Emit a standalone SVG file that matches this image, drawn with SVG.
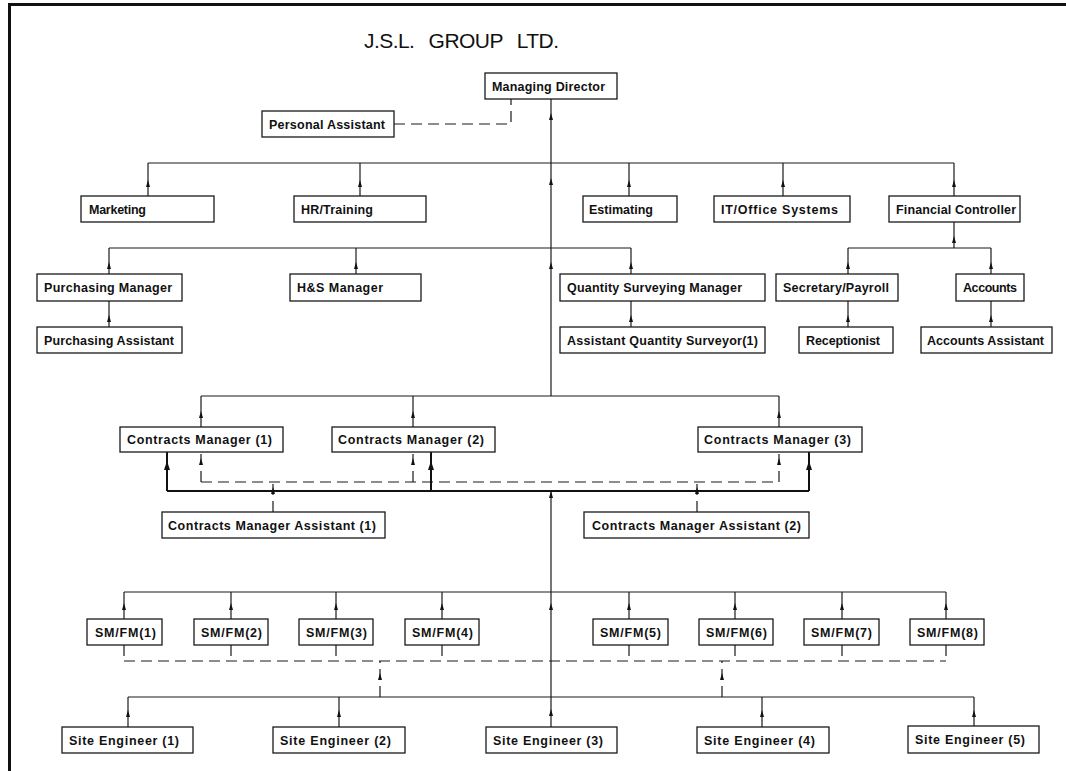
<svg xmlns="http://www.w3.org/2000/svg" xmlns:xlink="http://www.w3.org/1999/xlink" width="1066" height="771" viewBox="0 0 1066 771">
<style>
  .box { fill: #fff; stroke: #1a1a1a; stroke-width: 1.3; }
  .lbl { font-family: "Liberation Sans", Arial, sans-serif; font-size: 12.5px; font-weight: bold; fill: #111; }
  .title { font-family: "Liberation Sans", Arial, sans-serif; font-size: 21px; fill: #111; word-spacing: 9px; }
  .ln { fill: none; stroke: #1a1a1a; stroke-width: 1.2; }
  .thick { fill: none; stroke: #111; stroke-width: 2; }
  .dash { fill: none; stroke: #1a1a1a; stroke-width: 1.2; stroke-dasharray: 11 6; }
  .up { marker-mid: url(#ah); }
  .upend { marker-end: url(#ah); }
  .upbig { marker-mid: url(#ahb); }
  .frame { fill: none; stroke: #111; stroke-width: 3; }
</style>
<defs>
  <marker id="ah" markerUnits="userSpaceOnUse" markerWidth="8" markerHeight="6" viewBox="0 -3 8 6" refX="7" refY="0" orient="auto">
    <path d="M0,-2 L7,0 L0,2 z" fill="#111"/>
  </marker>
  <marker id="ahb" markerUnits="userSpaceOnUse" markerWidth="10" markerHeight="8" viewBox="0 -4 10 8" refX="9" refY="0" orient="auto">
    <path d="M0,-3 L9,0 L0,3 z" fill="#111"/>
  </marker>
</defs>
<rect x="0" y="0" width="1066" height="771" fill="#fff"/>
<path class="frame" d="M9.5,771 V4.5 H1066"/>
<text class="title" x="364" y="48" textLength="195" lengthAdjust="spacing">J.S.L. GROUP LTD.</text>

<g id="connectors">
  <!-- MD / PA -->
  <path class="dash" d="M394,124 H511 V99"/>
  <path class="ln up" d="M551,396 V262 V178 V113 V99"/>
  <!-- level 2 -->
  <path class="ln" d="M148,163 H954"/>
  <path class="ln up" d="M148,196 V180 V163"/>
  <path class="ln up" d="M360,196 V180 V163"/>
  <path class="ln up" d="M629,196 V180 V163"/>
  <path class="ln up" d="M783,196 V180 V163"/>
  <path class="ln up" d="M954,196 V180 V163"/>
  <!-- level 3 -->
  <path class="ln" d="M109,248 H631"/>
  <path class="ln up" d="M109,274 V262 V248"/>
  <path class="ln up" d="M356,274 V262 V248"/>
  <path class="ln up" d="M631,274 V262 V248"/>
  <path class="ln up" d="M954,248 V236 V222"/>
  <path class="ln" d="M848,248 H991"/>
  <path class="ln up" d="M848,274 V262 V248"/>
  <path class="ln up" d="M991,274 V262 V248"/>
  <!-- level 4 -->
  <path class="ln up" d="M109,327 V315 V301"/>
  <path class="ln up" d="M631,327 V315 V301"/>
  <path class="ln up" d="M848,327 V315 V301"/>
  <path class="ln up" d="M991,327 V315 V301"/>
  <!-- contracts managers -->
  <path class="ln" d="M201,396 H779"/>
  <path class="ln up" d="M201,427 V411 V396"/>
  <path class="ln up" d="M413,427 V411 V396"/>
  <path class="ln up" d="M779,427 V411 V396"/>
  <path class="dash" d="M201,482 H779"/>
  <path class="dash up" d="M201,482 V458 V452"/>
  <path class="dash up" d="M413,482 V458 V452"/>
  <path class="dash up" d="M779,482 V458 V452"/>
  <path class="thick" d="M167,491 H809"/>
  <path class="thick upbig" d="M167,491 V461 V452"/>
  <path class="thick upbig" d="M431,491 V461 V452"/>
  <path class="thick upbig" d="M809,491 V461 V452"/>
  <path class="dash up" d="M273,512 V487 V482"/>
  <path class="dash up" d="M697,512 V487 V482"/>
  <!-- lower trunk -->
  <path class="ln up upend" d="M551,727 V709 V603 V491"/>
  <!-- SM/FM -->
  <path class="ln" d="M124,592 H946"/>
  <path class="ln up" d="M124,619 V603 V592"/>
  <path class="ln up" d="M231,619 V603 V592"/>
  <path class="ln up" d="M336,619 V603 V592"/>
  <path class="ln up" d="M442,619 V603 V592"/>
  <path class="ln up" d="M629,619 V603 V592"/>
  <path class="ln up" d="M735,619 V603 V592"/>
  <path class="ln up" d="M842,619 V603 V592"/>
  <path class="ln up" d="M946,619 V603 V592"/>
  <path class="dash" d="M124,661 H946"/>
  <path class="dash" d="M124,645 V661 M231,645 V661 M336,645 V661 M442,645 V661 M629,645 V661 M735,645 V661 M842,645 V661 M946,645 V661"/>
  <path class="dash up" d="M380,697 V673 V661"/>
  <path class="dash up" d="M722,697 V673 V661"/>
  <!-- site engineers -->
  <path class="ln" d="M128,697 H974"/>
  <path class="ln up" d="M128,727 V710 V697"/>
  <path class="ln up" d="M339,727 V710 V697"/>
  <path class="ln up" d="M762,727 V710 V697"/>
  <path class="ln up" d="M974,727 V710 V697"/>
</g>

<g id="managing-director"><rect class="box" x="485" y="73" width="132" height="26"/><text class="lbl" x="492" y="91" textLength="113">Managing Director</text></g>
<g id="personal-assistant"><rect class="box" x="262" y="111" width="132" height="26"/><text class="lbl" x="269" y="129" textLength="116">Personal Assistant</text></g>

<g id="marketing"><rect class="box" x="81" y="196" width="133" height="26"/><text class="lbl" x="89" y="214" textLength="57">Marketing</text></g>
<g id="hr-training"><rect class="box" x="294" y="196" width="132" height="26"/><text class="lbl" x="301" y="214" textLength="72">HR/Training</text></g>
<g id="estimating"><rect class="box" x="583" y="196" width="94" height="26"/><text class="lbl" x="589" y="214" textLength="64">Estimating</text></g>
<g id="it-office-systems"><rect class="box" x="714" y="196" width="136" height="26"/><text class="lbl" x="721" y="214" textLength="117">IT/Office Systems</text></g>
<g id="financial-controller"><rect class="box" x="889" y="196" width="131" height="26"/><text class="lbl" x="896" y="214" textLength="120">Financial Controller</text></g>

<g id="purchasing-manager"><rect class="box" x="37" y="274" width="145" height="27"/><text class="lbl" x="44" y="292" textLength="128">Purchasing Manager</text></g>
<g id="hs-manager"><rect class="box" x="290" y="274" width="131" height="27"/><text class="lbl" x="297" y="292" textLength="86">H&amp;S Manager</text></g>
<g id="qs-manager"><rect class="box" x="560" y="274" width="205" height="27"/><text class="lbl" x="567" y="292" textLength="175">Quantity Surveying Manager</text></g>
<g id="secretary-payroll"><rect class="box" x="776" y="274" width="122" height="27"/><text class="lbl" x="783" y="292" textLength="106">Secretary/Payroll</text></g>
<g id="accounts"><rect class="box" x="956" y="274" width="68" height="27"/><text class="lbl" x="963" y="292" textLength="54">Accounts</text></g>

<g id="purchasing-assistant"><rect class="box" x="37" y="327" width="145" height="26"/><text class="lbl" x="44" y="345" textLength="130">Purchasing Assistant</text></g>
<g id="assistant-qs"><rect class="box" x="560" y="327" width="205" height="26"/><text class="lbl" x="567" y="345" textLength="191">Assistant Quantity Surveyor(1)</text></g>
<g id="receptionist"><rect class="box" x="799" y="327" width="94" height="26"/><text class="lbl" x="806" y="345" textLength="74">Receptionist</text></g>
<g id="accounts-assistant"><rect class="box" x="921" y="327" width="131" height="26"/><text class="lbl" x="927" y="345" textLength="117">Accounts Assistant</text></g>

<g id="contracts-manager-1"><rect class="box" x="120" y="427" width="163" height="25"/><text class="lbl" x="127" y="444" textLength="145">Contracts Manager (1)</text></g>
<g id="contracts-manager-2"><rect class="box" x="332" y="427" width="163" height="25"/><text class="lbl" x="338" y="444" textLength="146">Contracts Manager (2)</text></g>
<g id="contracts-manager-3"><rect class="box" x="698" y="427" width="164" height="25"/><text class="lbl" x="704" y="444" textLength="147">Contracts Manager (3)</text></g>
<g id="cm-assistant-1"><rect class="box" x="162" y="512" width="223" height="26"/><text class="lbl" x="168" y="530" textLength="208">Contracts Manager Assistant (1)</text></g>
<g id="cm-assistant-2"><rect class="box" x="584" y="512" width="225" height="26"/><text class="lbl" x="592" y="530" textLength="209">Contracts Manager Assistant (2)</text></g>

<g id="smfm-1"><rect class="box" x="87" y="619" width="75" height="26"/><text class="lbl" x="95" y="637" textLength="61">SM/FM(1)</text></g>
<g id="smfm-2"><rect class="box" x="194" y="619" width="74" height="26"/><text class="lbl" x="201" y="637" textLength="61">SM/FM(2)</text></g>
<g id="smfm-3"><rect class="box" x="299" y="619" width="74" height="26"/><text class="lbl" x="306" y="637" textLength="61">SM/FM(3)</text></g>
<g id="smfm-4"><rect class="box" x="405" y="619" width="74" height="26"/><text class="lbl" x="412" y="637" textLength="61">SM/FM(4)</text></g>
<g id="smfm-5"><rect class="box" x="593" y="619" width="75" height="26"/><text class="lbl" x="600" y="637" textLength="61">SM/FM(5)</text></g>
<g id="smfm-6"><rect class="box" x="699" y="619" width="74" height="26"/><text class="lbl" x="706" y="637" textLength="61">SM/FM(6)</text></g>
<g id="smfm-7"><rect class="box" x="804" y="619" width="75" height="26"/><text class="lbl" x="811" y="637" textLength="61">SM/FM(7)</text></g>
<g id="smfm-8"><rect class="box" x="910" y="619" width="74" height="26"/><text class="lbl" x="917" y="637" textLength="61">SM/FM(8)</text></g>

<g id="site-engineer-1"><rect class="box" x="62" y="727" width="131" height="26"/><text class="lbl" x="69" y="745" textLength="110">Site Engineer (1)</text></g>
<g id="site-engineer-2"><rect class="box" x="273" y="727" width="132" height="26"/><text class="lbl" x="280" y="745" textLength="111">Site Engineer (2)</text></g>
<g id="site-engineer-3"><rect class="box" x="486" y="727" width="131" height="26"/><text class="lbl" x="493" y="745" textLength="110">Site Engineer (3)</text></g>
<g id="site-engineer-4"><rect class="box" x="697" y="727" width="132" height="26"/><text class="lbl" x="704" y="745" textLength="111">Site Engineer (4)</text></g>
<g id="site-engineer-5"><rect class="box" x="908" y="726" width="131" height="27"/><text class="lbl" x="915" y="744" textLength="110">Site Engineer (5)</text></g>
</svg>
